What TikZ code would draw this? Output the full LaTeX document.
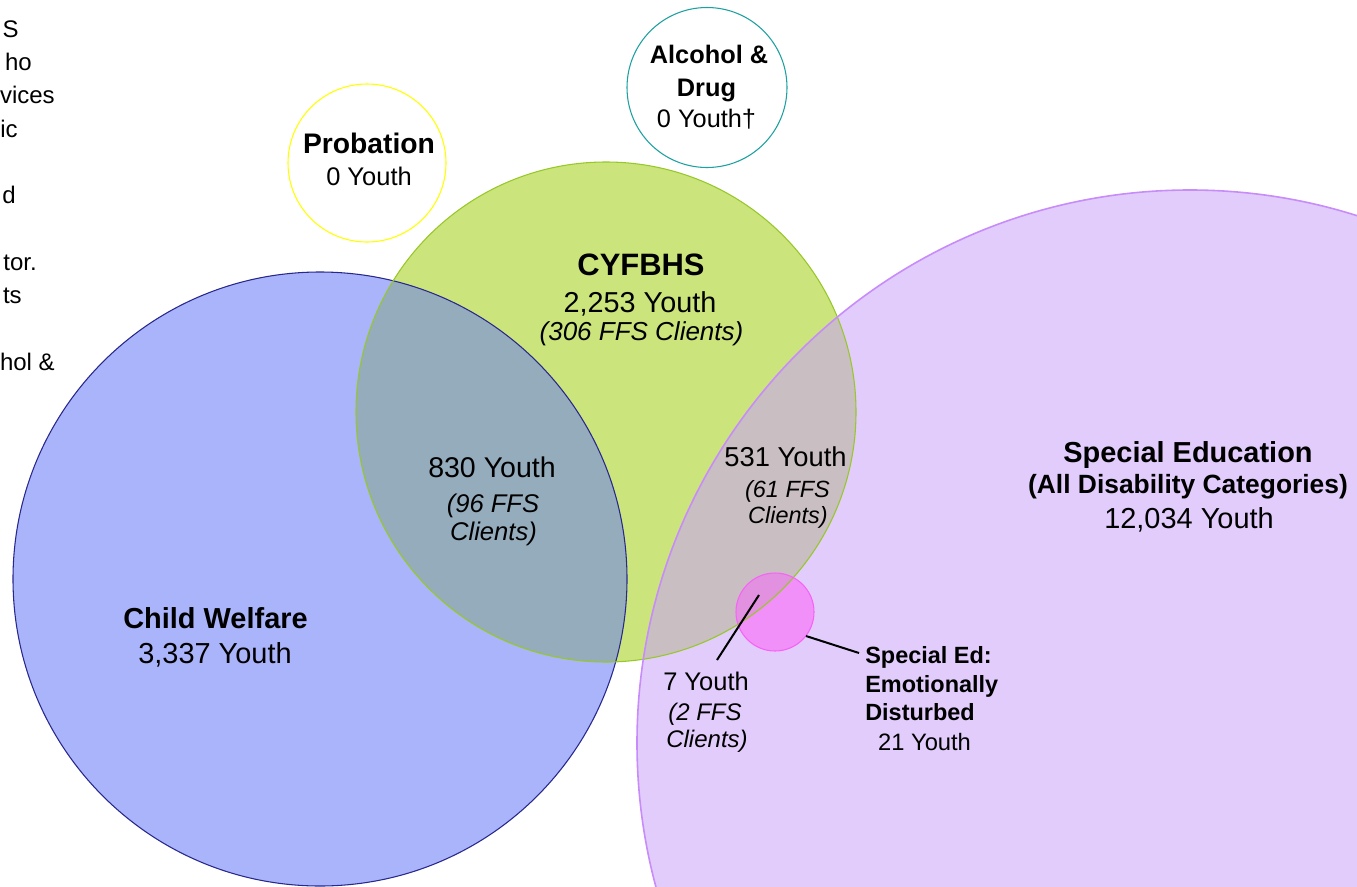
\documentclass[tikz,border=0pt]{standalone}
\usepackage{fontspec}
\setmainfont{Liberation Sans}
\usepackage{tikz}

\definecolor{cwfill}{RGB}{170,180,250}
\definecolor{cwline}{RGB}{40,40,140}
\definecolor{cyfill}{RGB}{204,228,124}
\definecolor{cyline}{RGB}{150,200,40}
\definecolor{sefill}{RGB}{226,204,252}
\definecolor{seline}{RGB}{200,140,250}
\definecolor{cwcy}{RGB}{149,172,188}
\definecolor{cyse}{RGB}{201,190,193}
\definecolor{edfill}{RGB}{240,144,248}
\definecolor{edover}{RGB}{226,144,224}
\definecolor{edline}{RGB}{245,100,245}
\definecolor{prline}{RGB}{255,255,0}
\definecolor{adline}{RGB}{30,160,160}

\begin{document}
\begin{tikzpicture}[x=0.75pt,y=0.75pt,yscale=-1,xscale=1,
  txt/.style={anchor=base,inner sep=0pt,font=\fontsize{#1}{#1}\selectfont},
  btxt/.style={txt=#1,font=\fontsize{#1}{#1}\selectfont\bfseries},
  itxt/.style={txt=#1,font=\fontsize{#1}{#1}\selectfont\itshape},
  ring/.style={line width=0.8pt},
  leader/.style={line width=1.5pt}]
\useasboundingbox (0,0) rectangle (1357,886);
\clip (0,0) rectangle (1357,886);

%Centres of the circles
\coordinate (cw) at (320,579);
\coordinate (cy) at (606,412);
\coordinate (se) at (1190,743);
\coordinate (ed) at (775,612);
\coordinate (pr) at (367,163);
\coordinate (ad) at (707,87.5);

%Shape: Circle (fills)
\fill[cwfill] (cw) circle (307);
\fill[sefill] (se) circle (553);
\fill[cyfill] (cy) circle (250);
%Overlaps
\begin{scope}
  \clip (cw) circle (307);
  \fill[cwcy] (cy) circle (250);
\end{scope}
\begin{scope}
  \clip (se) circle (553);
  \fill[cyse] (cy) circle (250);
\end{scope}
\fill[edfill] (ed) circle (39);
\begin{scope}
  \clip (cy) circle (250);
  \fill[edover] (ed) circle (39);
\end{scope}

%Shape: Circle (outlines)
\draw[ring,cwline] (cw) circle (307);
\draw[ring,cyline] (cy) circle (250);
\draw[ring,seline,line width=1.2pt] (se) circle (553);
\draw[ring,edline] (ed) circle (39);
\draw[ring,prline] (pr) circle (79);
\draw[ring,adline] (ad) circle (80);

%Straight Lines
\coordinate (sevtop) at (717,660);
\coordinate (sevin) at (759,595);
\coordinate (edrim) at (806,636);
\coordinate (edtext) at (859,653);
\draw[leader] (sevtop) -- (sevin);
\draw[leader] (edrim) -- (edtext);

% Text Node
\draw (19,37) node (frA) [txt=18,anchor=base east] {S};
\draw (32,70) node (frB) [txt=18,anchor=base east] {ho};
\draw (55,103) node (frC) [txt=18,anchor=base east] {vices};
\draw (18,137) node (frD) [txt=18,anchor=base east] {ic};
\draw (16,203) node (frE) [txt=18,anchor=base east] {d};
\draw (37,270) node (frF) [txt=18,anchor=base east] {tor.};
\draw (22,303) node (frG) [txt=18,anchor=base east] {ts};
\draw (55,370) node (frH) [txt=18,anchor=base east] {hol \&};
% Text Node
\draw (369,153) node (prname) [btxt=21.2] {Probation};
\draw (369,185) node (prnum) [txt=19.1] {0 Youth};
% Text Node
\draw (709,63) node (adnameA) [btxt=19] {Alcohol \&};
\draw (706.5,96) node (adnameB) [btxt=19] {Drug};
\draw (706.5,127) node (adnum) [txt=19] {0 Youth†};
% Text Node
\draw (641,275) node (cyname) [btxt=23.2] {CYFBHS};
\draw (640,312) node (cynum) [txt=21.6] {2,253 Youth};
\draw (641.5,340) node (cyffs) [itxt=19.5] {(306 FFS Clients)};
% Text Node
\draw (215.5,628) node (cwname) [btxt=21.7] {Child Welfare};
\draw (215,663) node (cwnum) [txt=21.7] {3,337 Youth};
% Text Node
\draw (492,477) node (bothnum) [txt=21.4] {830 Youth};
\draw (493,512) node (bothffsA) [itxt=19.2] {(96 FFS};
\draw (493.5,540) node (bothffsB) [itxt=19.2] {Clients)};
% Text Node
\draw (785.5,466) node (cysenum) [txt=20.5] {531 Youth};
\draw (787.5,497) node (cyseffsA) [itxt=17.6] {(61 FFS};
\draw (788,523) node (cyseffsB) [itxt=17.6] {Clients)};
% Text Node
\draw (706,690) node (sevnum) [txt=19.1] {7 Youth};
\draw (705,720) node (sevffsA) [itxt=18] {(2 FFS};
\draw (707,747) node (sevffsB) [itxt=18] {Clients)};
% Text Node
\draw (865,663) node (ednameA) [btxt=17.6,anchor=base west] {Special Ed:};
\draw (865,692) node (ednameB) [btxt=17.6,anchor=base west] {Emotionally};
\draw (865,720) node (ednameC) [btxt=17.6,anchor=base west] {Disturbed};
\draw (924.5,750) node (ednum) [txt=17.8] {21 Youth};
% Text Node
\draw (1188,462) node (sename) [btxt=21.7] {Special Education};
\draw (1188,493) node (sesub) [btxt=19.8] {(All Disability Categories)};
\draw (1189,528) node (senum) [txt=21.7] {12,034 Youth};

\end{tikzpicture}
\end{document}
